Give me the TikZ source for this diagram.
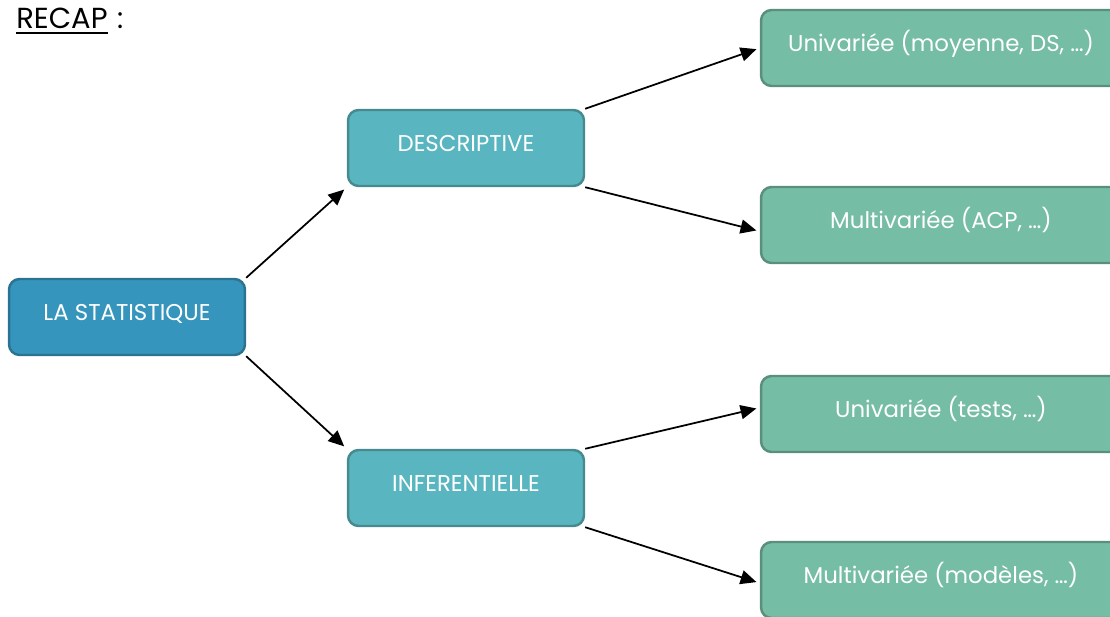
\documentclass[tikz,border=0pt]{standalone}
\usepackage{fontspec}
\setmainfont{Poppins}
\usetikzlibrary{arrows.meta}

\definecolor{rootFill}{HTML}{3595BC}
\definecolor{rootLine}{HTML}{2C7391}
\definecolor{midFill}{HTML}{59B6C0}
\definecolor{midLine}{HTML}{46898F}
\definecolor{leafFill}{HTML}{76BDA5}
\definecolor{leafLine}{HTML}{5A8F7C}

\newcommand{\thickul}[1]{\setbox0\hbox{#1}\rlap{\rule[-3.6pt]{\wd0}{1.2pt}}\box0}

\begin{document}
\begin{tikzpicture}[x=0.02cm, y=-0.02cm,
    boxStyle/.style={rectangle, rounded corners=6pt, line width=1.4pt, text=white, font=\fontsize{13}{15}\selectfont, minimum height=1.52cm, text height=10pt, text depth=5.6pt},
    rootStyle/.style={boxStyle, draw=rootLine, fill=rootFill, minimum width=4.72cm},
    midStyle/.style={boxStyle, draw=midLine, fill=midFill, minimum width=4.72cm},
    leafStyle/.style={boxStyle, draw=leafLine, fill=leafFill, minimum width=7.2cm},
    arrowStyle/.style={-{Triangle[length=9pt,width=8pt]}, line width=1pt, shorten >=2pt}]
    \useasboundingbox (0,0) rectangle (1110,617);
    \clip (0,0) rectangle (1110,617);

    \node[anchor=west, font=\fontsize{16.5}{18}\selectfont, inner sep=0pt] (recap) at (16, 21) {\thickul{RECAP}\,\,:};

    \node[rootStyle] (stat)  at (127, 317) {LA STATISTIQUE};
    \node[midStyle]  (desc)  at (466, 148) {DESCRIPTIVE};
    \node[midStyle]  (infer) at (466, 488) {INFERENTIELLE};

    \node[leafStyle] (desc_uni)    at (941,  48) {Univariée (moyenne, DS, …)};
    \node[leafStyle] (desc_multi)  at (941, 225) {Multivariée (ACP, …)};
    \node[leafStyle] (infer_uni)   at (941, 414) {Univariée (tests, …)};
    \node[leafStyle] (infer_multi) at (941, 580) {Multivariée (modèles, …)};

    \draw[arrowStyle] (stat.north east) -- (desc.south west);
    \draw[arrowStyle] (stat.south east) -- (infer.north west);
    \draw[arrowStyle] (desc.north east) -- (desc_uni.west);
    \draw[arrowStyle] (desc.south east) -- (desc_multi.182);
    \draw[arrowStyle] (infer.north east) -- (infer_uni.178);
    \draw[arrowStyle] (infer.south east) -- (infer_multi.181);
\end{tikzpicture}
\end{document}
